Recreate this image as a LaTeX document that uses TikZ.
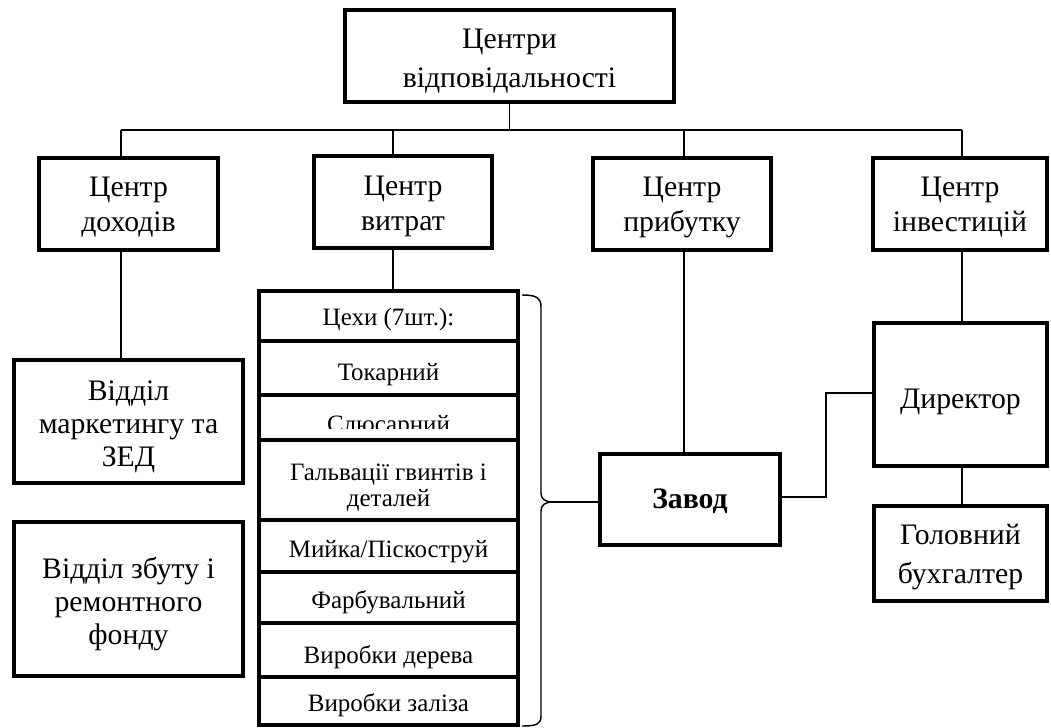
\documentclass[tikz,border=0pt]{standalone}
\usepackage{fontspec}
\setmainfont{Liberation Serif}
\usetikzlibrary{calc}
\newcommand\mainsz{\fontsize{22.3}{25.1}\selectfont}
\newcommand\listsz{\fontsize{18.75}{20}\selectfont}
\newcommand\mlines[1]{\vtop{\halign{\hfil##\hfil\cr#1\crcr}}}
\tikzset{
  box/.style={draw, line width=3pt, fill=white, inner sep=0pt},
  row/.style={draw, line width=3pt, fill=white, inner sep=0pt, minimum width=259*0.75pt},
  txt/.style={inner sep=0pt, anchor=base, font=\mainsz},
  ltxt/.style={inner sep=0pt, anchor=base, font=\listsz},
  conn/.style={line width=1.1pt},
}
\begin{document}
\begin{tikzpicture}[x=0.75pt, y=-0.75pt]
\useasboundingbox (0,0) rectangle (1051,728);

% top
\node[box, minimum width=329*0.75pt, minimum height=92*0.75pt] (top) at (509.5,56) {};
\node[txt, font=\fontsize{22.3}{29.25}\selectfont] (topt) at (509.5,48) {\mlines{Центри\cr відповідальності}};

% second row
\node[box, minimum width=179*0.75pt, minimum height=92*0.75pt] (c1) at (128.5,204) {};
\node[box, minimum width=178*0.75pt, minimum height=92*0.75pt] (c2) at (403,202) {};
\node[box, minimum width=178*0.75pt, minimum height=92*0.75pt] (c3) at (682,204) {};
\node[box, minimum width=174*0.75pt, minimum height=92*0.75pt] (c4) at (960,204) {};
\tikzset{ctxt/.style={txt, font=\fontsize{22.3}{26.25}\selectfont}}
\node[ctxt] (c1t) at (128.5,196.5) {\mlines{Центр\cr доходів}};
\node[ctxt] (c2t) at (403,195) {\mlines{Центр\cr витрат}};
\node[ctxt] (c3t) at (682,196.5) {\mlines{Центр\cr прибутку}};
\node[ctxt] (c4t) at (960,196.5) {\mlines{Центр\cr інвестицій}};

% bus
\coordinate (b1) at (121,130);
\coordinate (b2) at (393,130);
\coordinate (b3) at (684,130);
\coordinate (b4) at (962,130);
\draw[conn] (b1) -- (b4);
\draw[conn] (top.south) -- (top.south |- b1);
\draw[conn] (b1) -- (b1 |- c1.north);
\draw[conn] (b2) -- (b2 |- c2.north);
\draw[conn] (b3) -- (b3 |- c3.north);
\draw[conn] (b4) -- (b4 |- c4.north);

% left column
\node[box, minimum width=229*0.75pt, minimum height=123*0.75pt] (m1) at (128.5,421.5) {};
\node[txt] (m1t) at (128.5,400) {\mlines{Відділ\cr маркетингу та\cr ЗЕД}};
\node[box, minimum width=229*0.75pt, minimum height=154*0.75pt] (m2) at (128.5,599) {};
\node[txt] (m2t) at (128.5,578) {\mlines{Відділ збуту і\cr ремонтного\cr фонду}};
\draw[conn] (b1 |- c1.south) -- (b1 |- m1.north);

% list of workshops
\node[row, minimum height=50*0.75pt] (r0) at (388.5,316) {};
\node[ltxt] (r0t) at (388.5,325) {Цехи (7шт.):};
\node[row, minimum height=54*0.75pt] (r1) at (388.5,368) {};
\node[ltxt] (r1t) at (388.5,380) {Токарний};
\node[row, minimum height=45*0.75pt] (r2) at (388.5,417.5) {};
\begin{scope}
  \clip (259,395) rectangle (518,428);
  \node[ltxt] (r2t) at (388.5,432) {Слюсарний};
\end{scope}
\node[row, minimum height=80*0.75pt] (r3) at (388.5,480) {};
\node[ltxt, font=\fontsize{18.75}{20}\selectfont] (r3t) at (388.5,480) {\mlines{Гальвації гвинтів і\cr деталей}};
\node[row, minimum height=52*0.75pt] (r4) at (388.5,546) {};
\node[ltxt] (r4t) at (388.5,557) {Мийка/Піскоструй};
\node[row, minimum height=51*0.75pt] (r5) at (388.5,597.5) {};
\node[ltxt] (r5t) at (388.5,608) {Фарбувальний};
\node[row, minimum height=54*0.75pt] (r6) at (388.5,650) {};
\node[ltxt] (r6t) at (388.5,663) {Виробки дерева};
\node[row, minimum height=48*0.75pt] (r7) at (388.5,701) {};
\node[ltxt] (r7t) at (388.5,711.5) {Виробки заліза};
\draw[conn] (b2 |- c2.south) -- (b2 |- r0.north);

% brace
\draw[conn] (522,295) .. controls (537,295) and (541,298) .. (541,307)
  -- (541,493) .. controls (541,499) and (545,502) .. (553,502)
  .. controls (545,502) and (541,505) .. (541,511)
  -- (541,716) .. controls (541,724) and (537,726) .. (522,726);
\coordinate (bt) at (553,502);

% plant
\node[box, minimum width=180*0.75pt, minimum height=91*0.75pt] (zavod) at (690,499.5) {};
\node[txt, font=\mainsz\bfseries] (zavodt) at (690,508) {Завод};
\draw[conn] (bt) -- (bt -| zavod.west);
\draw[conn] (b3 |- c3.south) -- (b3 |- zavod.north);

% right column
\node[box, minimum width=173*0.75pt, minimum height=143*0.75pt] (dir) at (960.5,394.5) {};
\node[txt] (dirt) at (960.5,408) {Директор};
\node[box, minimum width=173*0.75pt, minimum height=95*0.75pt] (buh) at (960.5,553.5) {};
\node[txt, font=\fontsize{22.3}{29.25}\selectfont] (buht) at (960.5,544) {\mlines{Головний\cr бухгалтер}};
\draw[conn] (b4 |- c4.south) -- (b4 |- dir.north);
\draw[conn] (b4 |- dir.south) -- (b4 |- buh.north);

\coordinate (k1) at (826,497);
\coordinate (k2) at (826,393);
\draw[conn] (k1 -| zavod.east) -- (k1) -- (k2) -- (k2 -| dir.west);
\end{tikzpicture}
\end{document}
